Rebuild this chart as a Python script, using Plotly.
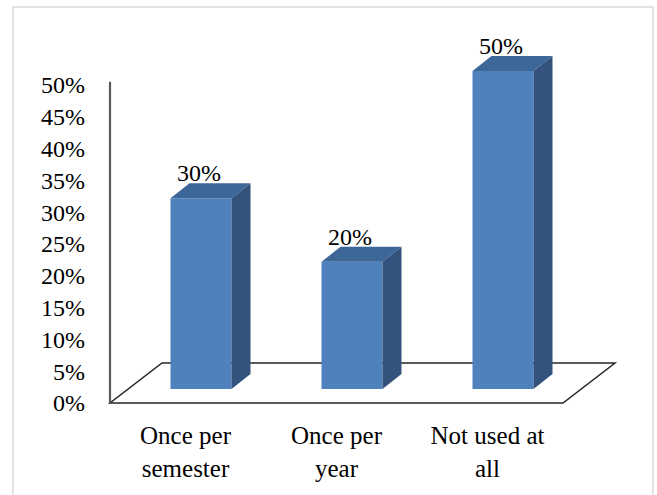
import plotly.graph_objects as go

# ---- data ----
categories = ["Once per<br>semester", "Once per<br>year", "Not used at<br>all"]
values = [30, 20, 50]
value_labels = ["30%", "20%", "50%"]
tick_vals = [0, 5, 10, 15, 20, 25, 30, 35, 40, 45, 50]
tick_text = ["0%", "5%", "10%", "15%", "20%", "25%", "30%", "35%", "40%", "45%", "50%"]

# ---- geometry (pixel -> data conversion) ----
W, H = 657, 495
ML, MT, MB = 88, 0, 85
PX_X = 151.0          # px per category unit
PX_Y = 6.36           # px per percent
X0_PX = 110           # pixel of x=-0.5
Y0_PX = 403           # pixel of y=0
px2x = lambda p: 1.0 / PX_X * p
px2y = lambda p: 1.0 / PX_Y * p

xr = [-0.5 + (ML - X0_PX) / PX_X, -0.5 + (W - X0_PX) / PX_X]
plot_h = H - MT - MB
yr = [(Y0_PX - (MT + plot_h)) / PX_Y, (Y0_PX - MT) / PX_Y]

bar_w = px2x(61)
front_dx, front_dy = px2x(15.5), px2y(14)      # bar front face offset in depth
dep_dx, dep_dy = px2x(19), px2y(15)            # bar depth
floor_dx, floor_dy = px2x(52), px2y(40)        # floor depth

FRONT = "#4F81BD"
TOP = "#3D6699"
SIDE = "#33537C"
SERIF = "Liberation Serif"

xs = list(range(len(values)))
fig = go.Figure()

# front faces
fig.add_trace(go.Bar(
    x=[i + front_dx for i in xs], y=values, base=front_dy, width=bar_w,
    marker=dict(color=FRONT, line=dict(width=0)), hoverinfo="skip"))

# top and side faces
for i, v in zip(xs, values):
    xl = i + front_dx - bar_w / 2
    xrr = i + front_dx + bar_w / 2
    yb = front_dy
    yt = front_dy + v
    fig.add_trace(go.Scatter(
        x=[xl, xrr, xrr + dep_dx, xl + dep_dx, xl],
        y=[yt, yt, yt + dep_dy, yt + dep_dy, yt],
        fill="toself", fillcolor=TOP, mode="lines", line=dict(width=0),
        hoverinfo="skip"))
    fig.add_trace(go.Scatter(
        x=[xrr, xrr + dep_dx, xrr + dep_dx, xrr, xrr],
        y=[yb, yb + dep_dy, yt + dep_dy, yt, yb],
        fill="toself", fillcolor=SIDE, mode="lines", line=dict(width=0),
        hoverinfo="skip"))

# value labels
fig.add_trace(go.Scatter(
    x=[i + front_dx - px2x(2) for i in xs],
    y=[v + front_dy + dep_dy - px2y(4) for v in values],
    mode="text", text=value_labels, textposition="top center",
    textfont=dict(family=SERIF, size=24, color="black"),
    cliponaxis=False, hoverinfo="skip"))

n = len(values)
floor_col = "#262626"
shapes = [
    # floor
    dict(type="path", xref="x", yref="y", layer="below",
         path=f"M {-0.5},0 L {n-0.5},0 L {n-0.5+floor_dx},{floor_dy} "
              f"L {-0.5+floor_dx},{floor_dy} Z",
         line=dict(color=floor_col, width=1.5), fillcolor="white"),
    # vertical axis line
    dict(type="line", xref="x", yref="y", layer="below",
         x0=-0.5, x1=-0.5, y0=0, y1=50.5,
         line=dict(color="#5a5a5a", width=2.2)),
    # outer frame
    dict(type="rect", xref="paper", yref="paper",
         x0=(13 - ML) / (W - ML), x1=(653 - ML) / (W - ML),
         y0=1 - (510 - MT) / plot_h, y1=1 - (7 - MT) / plot_h,
         line=dict(color="#d9d9d9", width=1.5)),
]

fig.update_layout(
    width=W, height=H, autosize=False,
    margin=dict(l=ML, r=0, t=MT, b=MB),
    paper_bgcolor="white", plot_bgcolor="white",
    showlegend=False, shapes=shapes,
    font=dict(family=SERIF, size=24, color="black"),
    xaxis=dict(range=xr, showgrid=False, zeroline=False, showline=False,
               tickmode="array", tickvals=xs, ticktext=categories, ticks="",
               ticklabelstandoff=8, tickfont=dict(family=SERIF, size=25),
               fixedrange=True),
    yaxis=dict(range=yr, showgrid=False, zeroline=False, showline=False,
               tickmode="array", tickvals=tick_vals, ticktext=tick_text,
               ticks="", ticklabelstandoff=2, tickfont=dict(family=SERIF, size=24),
               fixedrange=True),
)

fig.write_html("out.html")
